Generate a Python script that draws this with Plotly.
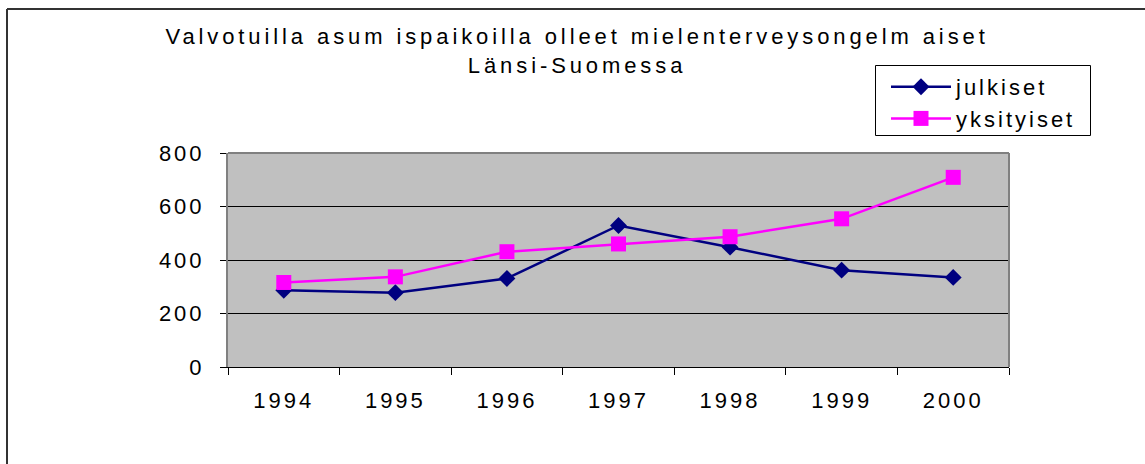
import plotly.graph_objects as go

years = ["1994", "1995", "1996", "1997", "1998", "1999", "2000"]
julkiset = [287, 278, 331, 529, 448, 362, 335]
yksityiset = [316, 337, 431, 460, 487, 554, 709]
y_ticks = [0, 200, 400, 600, 800]

title_text = "Valvotuilla asum ispaikoilla olleet mielenterveysongelm aiset<br>Länsi-Suomessa"
FONT = "Liberation Sans, Arial, sans-serif"
FS = 22

fig = go.Figure()
fig.add_trace(go.Scatter(
    x=years, y=julkiset, name="julkiset", mode="lines+markers",
    line=dict(color="#000080", width=2.5),
    marker=dict(symbol="diamond", size=13, color="#000080"),
))
fig.add_trace(go.Scatter(
    x=years, y=yksityiset, name="yksityiset", mode="lines+markers",
    line=dict(color="#FF00FF", width=2.5),
    marker=dict(symbol="square", size=15, color="#FF00FF"),
))

L, R, T, B = 228, 136, 153, 97
W, H = 1145, 464
pw = W - L - R
ph = H - T - B

def px2x(px):
    return (px - L) / pw

def py2y(py):
    return (H - B - py) / ph

fig.update_layout(
    width=W, height=H,
    margin=dict(l=L, r=R, t=T, b=B, autoexpand=False),
    paper_bgcolor="white",
    plot_bgcolor="#C0C0C0",
    font=dict(family=FONT, color="black", size=FS),
    title=dict(text=title_text, x=0.504, xref="container", xanchor="center",
               y=1 - 44 / H, yref="container", yanchor="top",
               font=dict(family=FONT, size=FS, color="black")),
    showlegend=True,
    legend=dict(x=px2x(886), y=py2y(66), xanchor="left", yanchor="top",
                bgcolor="rgba(0,0,0,0)", borderwidth=0,
                font=dict(family=FONT, size=FS, color="black"),
                itemwidth=60),
    xaxis=dict(type="category", range=[-0.5, len(years) - 0.5],
               tickson="boundaries", ticks="outside", ticklen=7,
               tickcolor="black", showline=True, linecolor="black", linewidth=1,
               showgrid=False, ticklabelstandoff=14,
               tickfont=dict(family=FONT, size=FS, color="black")),
    yaxis=dict(range=[0, 800], tickvals=y_ticks, ticks="outside", ticklen=6,
               tickcolor="black", showline=True, linecolor="#808080", linewidth=2,
               showgrid=True, gridcolor="black", gridwidth=1, zeroline=False,
               ticklabelstandoff=11,
               tickfont=dict(family=FONT, size=FS, color="black")),
    shapes=[
        dict(type="line", xref="paper", yref="paper", x0=0, x1=1, y0=1, y1=1,
             line=dict(color="#808080", width=2), layer="above"),
        dict(type="line", xref="paper", yref="paper", x0=1, x1=1, y0=0, y1=1,
             line=dict(color="#808080", width=2), layer="above"),
        dict(type="line", xref="paper", yref="paper", x0=px2x(7), x1=px2x(1150),
             y0=py2y(9), y1=py2y(9), line=dict(color="#333333", width=2)),
        dict(type="line", xref="paper", yref="paper", x0=px2x(7), x1=px2x(7),
             y0=py2y(9), y1=py2y(470), line=dict(color="#333333", width=2)),
        dict(type="rect", xref="paper", yref="paper", x0=px2x(875.5), x1=px2x(1090.5),
             y0=py2y(65.5), y1=py2y(135.5), line=dict(color="black", width=1)),
    ],
)

post = """
document.body.style.margin = '0';
document.body.style.overflow = 'hidden';
document.querySelectorAll('.gtitle').forEach(function(e){ e.style.letterSpacing = '3.9px'; });
['.xtick text', '.ytick text', '.legendtext'].forEach(function(s){
  document.querySelectorAll(s).forEach(function(e){ e.style.letterSpacing = '3px'; });
});
document.querySelectorAll('.legend .scrollbox, .legend').forEach(function(e){ e.removeAttribute('clip-path'); });
"""

fig.write_html("out.html", post_script=post, config={"displayModeBar": False})
